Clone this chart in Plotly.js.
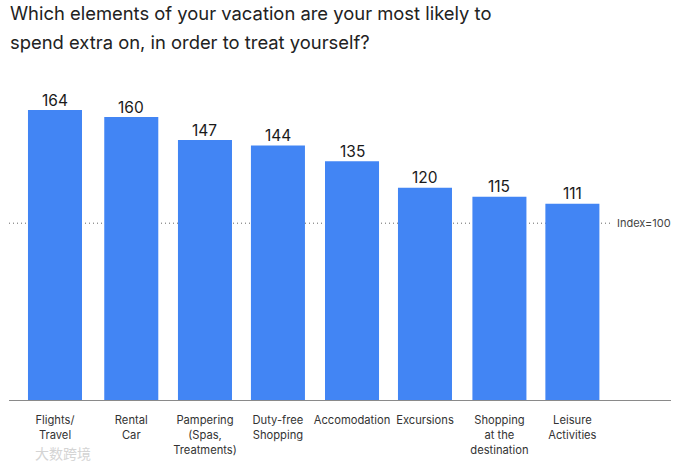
<!DOCTYPE html>
<html><head><meta charset="utf-8">
<script src="https://cdn.plot.ly/plotly-3.0.1.min.js"></script>
<style>html,body{margin:0;padding:0;background:#fff}</style></head>
<body><div id="chart" style="width:690px;height:468px"></div>
<script>
const categories = ["Flights/<br>Travel","Rental<br>Car","Pampering<br>(Spas,<br>Treatments)","Duty-free<br>Shopping","Accomodation","Excursions","Shopping<br>at the<br>destination","Leisure<br>Activities"];
const values = [164,160,147,144,135,120,115,111];
const indexValue = 100;
const indexLabel = "Index=100";
const titleLines = ["Which elements of your vacation are your most likely to","spend extra on, in order to treat yourself?"];
const fontFam = "Inter, 'Noto Sans', sans-serif";
const slots = [0,1.035,2.035,3.025,4.03,5.02,6.03,7.02];
const valueNotes = values.map((v,i)=>({x:slots[i],y:v,xref:"x",yref:"y",text:String(v),showarrow:false,xanchor:"center",yanchor:"middle",yshift:10,font:{family:fontFam,size:15.5,color:"#1a1a1a"}}));
Plotly.newPlot("chart",[{
  type:"bar",x:slots,y:values,
  marker:{color:"#4285f4"},width:0.733,hoverinfo:"x+y"
}],{
  width:690,height:468,showlegend:false,
  paper_bgcolor:"#fff",plot_bgcolor:"#fff",
  margin:{l:9,r:19,t:60,b:68},
  xaxis:{range:[-0.624,8.358],tickmode:"array",tickvals:slots,ticktext:categories,ticks:"outside",ticklen:10,tickcolor:"rgba(0,0,0,0)",showgrid:false,zeroline:false,
    showline:true,linecolor:"#8a8a8a",linewidth:1,tickangle:0,tickfont:{family:fontFam,size:11.2,color:"#333"},automargin:false},
  yaxis:{range:[0,192.3],visible:false,showgrid:false,zeroline:false,fixedrange:true},
  shapes:[{type:"line",layer:"below",xref:"paper",x0:0,x1:0.908,yref:"y",y0:indexValue,y1:indexValue,line:{color:"#666",width:1,dash:"1px,3px"}}],
  annotations:valueNotes.concat([
    {xref:"paper",yref:"paper",x:-0.002,xanchor:"left",yanchor:"middle",y:1+(60-13)/340,text:titleLines[0],showarrow:false,font:{family:fontFam,size:18.4,color:"#222"}},
    {xref:"paper",yref:"paper",x:-0.002,xanchor:"left",yanchor:"middle",y:1+(60-42)/340,text:titleLines[1],showarrow:false,font:{family:fontFam,size:18.4,color:"#222"}},
    {xref:"paper",x:0.915,yref:"y",y:indexValue,text:indexLabel,showarrow:false,xanchor:"left",yanchor:"middle",font:{family:fontFam,size:11,color:"#444"}},
    {xref:"paper",yref:"paper",x:0.005,y:-53/340,text:"大数跨境",showarrow:false,xanchor:"left",yanchor:"middle",xshift:21,font:{family:"'Noto Sans CJK SC'",size:14,color:"#d4d4d4"}}
  ])
},{displayModeBar:false,staticPlot:true});
</script></body></html>
